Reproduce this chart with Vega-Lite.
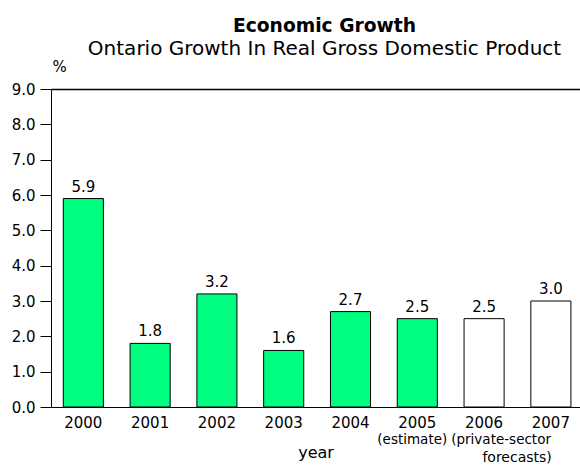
{
  "$schema": "https://vega.github.io/schema/vega-lite/v6.json",
  "autosize": {"type": "none"},
  "padding": {"left": 51, "top": 89, "right": 0, "bottom": 58},
  "width": 529,
  "height": 318,
  "background": "white",
  "config": {
    "view": {"stroke": null},
    "font": "DejaVu Sans",
    "text": {"font": "DejaVu Sans"},
    "axis": {"labelFont": "DejaVu Sans", "titleFont": "DejaVu Sans", "labelColor": "black", "titleColor": "black", "domainColor": "black", "tickColor": "black"}
  },
  "title": {
    "text": "Economic Growth",
    "subtitle": "Ontario Growth In Real Gross Domestic Product",
    "anchor": "middle",
    "dx": 9,
    "offset": 0,
    "font": "DejaVu Sans",
    "fontSize": 18.7,
    "fontWeight": "bold",
    "color": "black",
    "subtitleFontSize": 20,
    "subtitleColor": "black",
    "subtitleFont": "DejaVu Sans",
    "subtitlePadding": 3
  },
  "datasets": {
    "gdp": [
      {"year": "2000", "growth": 5.9, "kind": "actual"},
      {"year": "2001", "growth": 1.8, "kind": "actual"},
      {"year": "2002", "growth": 3.2, "kind": "actual"},
      {"year": "2003", "growth": 1.6, "kind": "actual"},
      {"year": "2004", "growth": 2.7, "kind": "actual"},
      {"year": "2005", "growth": 2.5, "kind": "actual"},
      {"year": "2006", "growth": 2.5, "kind": "forecast"},
      {"year": "2007", "growth": 3.0, "kind": "forecast"}
    ]
  },
  "data": {"name": "gdp"},
  "encoding": {
    "x": {
      "field": "year", "type": "nominal", "sort": null,
      "scale": {"paddingInner": 0.4, "paddingOuter": 0.16, "align": 0.575},
      "axis": {"title": "year", "labelAngle": 0, "ticks": false, "labelFontSize": 15, "labelPadding": 8, "titleFontSize": 16, "titleFontWeight": "normal", "titlePadding": 14, "domainWidth": 1}
    },
    "y": {
      "field": "growth", "type": "quantitative",
      "scale": {"domain": [0, 9], "nice": false},
      "axis": {"title": "%", "titleAngle": 0, "titleX": 1, "titleY": -15, "titleAlign": "left", "titleBaseline": "bottom", "titleFontSize": 15, "titleFontWeight": "normal", "values": [0,1,2,3,4,5,6,7,8,9], "labelOverlap": false, "format": ".1f", "labelFontSize": 15, "tickSize": 11, "labelPadding": 5, "domainWidth": 1,
        "grid": true, "gridColor": "black", "gridWidth": 1.5,
        "gridOpacity": {"condition": {"test": "datum.value == 9", "value": 1}, "value": 0}}
    }
  },
  "layer": [
    {
      "mark": {"type": "bar", "stroke": "black", "strokeWidth": 1},
      "encoding": {
        "fill": {
          "field": "kind", "type": "nominal",
          "scale": {"domain": ["actual", "forecast"], "range": ["#00FF80", "#FFFFFF"]},
          "legend": null
        }
      }
    },
    {
      "mark": {"type": "text", "fontSize": 15, "baseline": "bottom", "dy": -4, "color": "black"},
      "encoding": {
        "text": {"field": "growth", "type": "quantitative", "format": ".1f"}
      }
    },
    {
      "transform": [{"filter": "datum.year == '2005'"}],
      "mark": {"type": "text", "fontSize": 13.5, "baseline": "middle", "color": "black", "text": "(estimate)", "dx": -5},
      "encoding": {"y": {"datum": -0.93}}
    },
    {
      "transform": [{"filter": "datum.year == '2006'"}],
      "mark": {"type": "text", "fontSize": 13.5, "baseline": "middle", "color": "black", "text": "(private-sector", "dx": 17},
      "encoding": {"y": {"datum": -0.93}}
    },
    {
      "transform": [{"filter": "datum.year == '2006'"}],
      "mark": {"type": "text", "fontSize": 14, "baseline": "middle", "color": "black", "text": "forecasts)", "dx": 33},
      "encoding": {"y": {"datum": -1.45}}
    }
  ]
}
